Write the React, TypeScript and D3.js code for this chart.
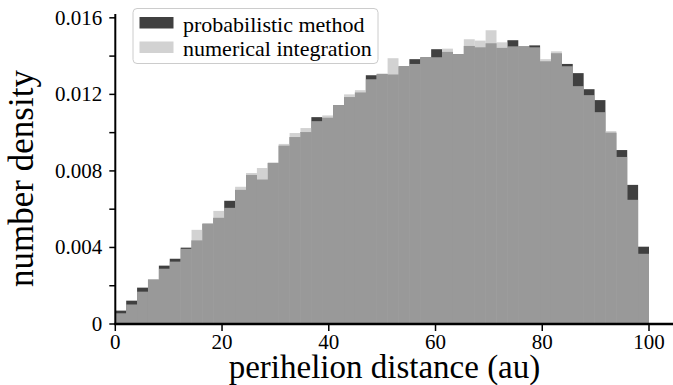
import React from "react";
import * as d3 from "d3";

// 49 bins between 0 and 100 au (50 edges)
const binEdges: number[] = d3.range(50).map((i) => (i * 100) / 49);

const probabilisticMethod: number[] = [
  0.0007, 0.00122, 0.0019, 0.00232, 0.00305, 0.00341, 0.00399, 0.00437, 0.00524, 0.00555,
  0.00644, 0.00701, 0.00779, 0.00755, 0.00842, 0.00932, 0.00977, 0.01003, 0.01081, 0.01078,
  0.01144, 0.01186, 0.0121, 0.013, 0.01307, 0.01304, 0.01347, 0.01384, 0.01394, 0.01436,
  0.01422, 0.0141, 0.01453, 0.01446, 0.01467, 0.01443, 0.01483, 0.01451, 0.01456, 0.01373,
  0.01415, 0.01359, 0.01311, 0.01227, 0.0117, 0.01, 0.00909, 0.00727, 0.00404,
];

const numericalIntegration: number[] = [
  0.00056, 0.00102, 0.00169, 0.00232, 0.00289, 0.00326, 0.00393, 0.00492, 0.00526, 0.00591,
  0.00607, 0.00717, 0.00789, 0.00815, 0.00842, 0.00941, 0.00998, 0.01024, 0.0106, 0.0109,
  0.01144, 0.012, 0.01222, 0.01279, 0.01307, 0.01389, 0.01347, 0.01359, 0.01394, 0.01394,
  0.01439, 0.0141, 0.01488, 0.01481, 0.01535, 0.01472, 0.01451, 0.01451, 0.01446, 0.01384,
  0.01425, 0.01347, 0.01243, 0.01196, 0.01107, 0.01008, 0.00873, 0.00649, 0.00367,
];

const xTicks: number[] = [0, 20, 40, 60, 80, 100];
const yMajorTicks: number[] = [0, 0.004, 0.008, 0.012, 0.016];
const yMajorLabels: string[] = ["0", "0.004", "0.008", "0.012", "0.016"];
const yMinorTicks: number[] = [0.002, 0.006, 0.01, 0.014];
const legendLabels: string[] = ["probabilistic method", "numerical integration"];

const W = 673;
const H = 385;
const FONT = "'Liberation Serif', 'Times New Roman', Times, serif";

export default function App() {
  const x = d3.scaleLinear().domain([0, 100]).range([115.3, 649]);
  const y = d3.scaleLinear().domain([0, 0.0162]).range([324, 14]);
  const x0 = x(0);
  const y0 = y(0);

  const bins = d3.range(binEdges.length - 1).map((i) => ({
    x0: binEdges[i],
    x1: binEdges[i + 1],
    p: probabilisticMethod[i],
    n: numericalIntegration[i],
  }));

  return (
    <div style={{ position: "fixed", left: 0, top: 0 }}>
      <svg width={W} height={H} style={{ display: "block", background: "#fff" }} fontFamily={FONT}>
        {/* probabilistic method bars */}
        <g>
          {bins.map((b, i) => (
            <rect
              key={"p" + i}
              x={x(b.x0)}
              width={x(b.x1) - x(b.x0)}
              y={y(b.p)}
              height={y0 - y(b.p)}
              fill="#404040"
            />
          ))}
        </g>
        {/* numerical integration bars (semi-transparent) */}
        <g>
          {bins.map((b, i) => (
            <rect
              key={"n" + i}
              x={x(b.x0)}
              width={x(b.x1) - x(b.x0)}
              y={y(b.n)}
              height={y0 - y(b.n)}
              fill="#bfbfbf"
              fillOpacity={0.7}
            />
          ))}
        </g>

        {/* y axis */}
        <line x1={x0} x2={x0} y1={y0 + 1} y2={y(0.0162)} stroke="#000" strokeWidth={2} />
        {yMajorTicks.map((t, i) => (
          <g key={"ym" + i}>
            <line x1={x0 - 6} x2={x0} y1={y(t)} y2={y(t)} stroke="#000" strokeWidth={1.5} />
            <text
              x={x0 - 13}
              y={y(t)}
              dy="0.33em"
              textAnchor="end"
              fontSize={21}
              fill="#000"
            >
              {yMajorLabels[i]}
            </text>
          </g>
        ))}
        {yMinorTicks.map((t, i) => (
          <line key={"yn" + i} x1={x0 - 6} x2={x0} y1={y(t)} y2={y(t)} stroke="#000" strokeWidth={1.5} />
        ))}

        {/* x axis */}
        <line x1={x0 - 1} x2={W} y1={y0} y2={y0} stroke="#000" strokeWidth={2.6} />
        {xTicks.map((t, i) => (
          <g key={"xt" + i}>
            <line x1={x(t)} x2={x(t)} y1={y0} y2={y0 + 7} stroke="#000" strokeWidth={1.5} />
            <text x={x(t)} y={348.5} textAnchor="middle" fontSize={21} fill="#000">
              {String(t)}
            </text>
          </g>
        ))}

        {/* axis titles */}
        <text x={384.5} y={377.5} textAnchor="middle" fontSize={33} fill="#000">
          perihelion distance (au)
        </text>
        <text
          transform={`translate(33, 178.5) rotate(-90)`}
          textAnchor="middle"
          fontSize={35}
          fill="#000"
        >
          number density
        </text>

        {/* legend */}
        <g>
          <rect
            x={133}
            y={8.5}
            width={245}
            height={55}
            rx={4}
            ry={4}
            fill="#fff"
            fillOpacity={0.8}
            stroke="#cccccc"
            strokeWidth={1}
          />
          <rect x={139.5} y={17} width={34} height={11.5} fill="#404040" />
          <rect x={139.5} y={41.5} width={34} height={11.5} fill="#bfbfbf" fillOpacity={0.7} />
          <text x={183} y={31.5} fontSize={22} fill="#000">
            {legendLabels[0]}
          </text>
          <text x={183} y={56} fontSize={22} fill="#000">
            {legendLabels[1]}
          </text>
        </g>
      </svg>
    </div>
  );
}
